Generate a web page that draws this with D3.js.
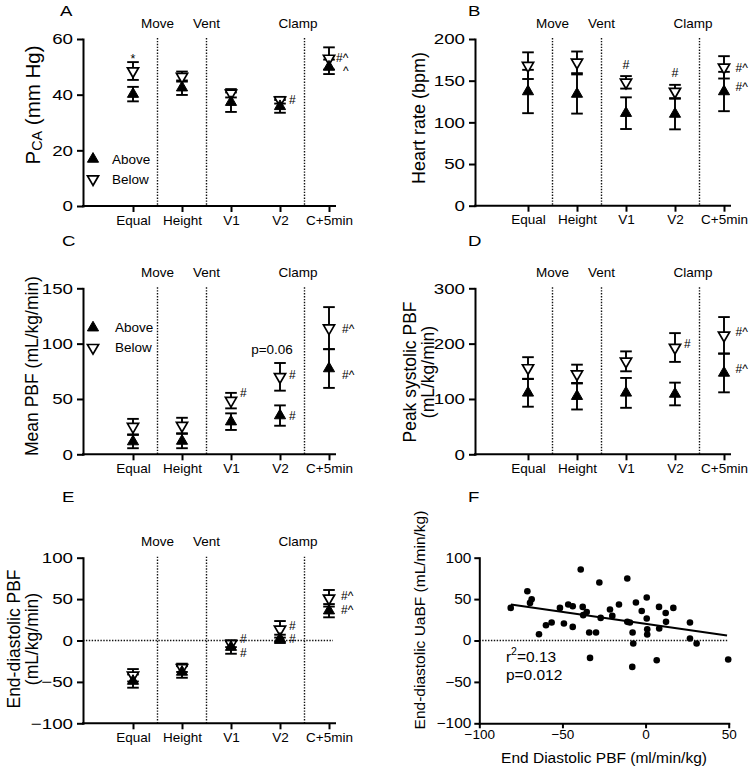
<!DOCTYPE html>
<html><head><meta charset="utf-8">
<script src="https://cdn.jsdelivr.net/npm/d3@7"></script>
<style>
body{margin:0;background:#fff;}
svg text{font-family:"Liberation Sans",Arial,sans-serif;fill:#000;}
</style></head><body>
<svg id="chart" width="752" height="775"></svg>
<script>
// ---------- DATA ----------
const categories = ["Equal","Height","V1","V2","C+5min"];
const phaseLabels = ["Move","Vent","Clamp"];
const seriesNames = ["Above","Below"];

// A: PCA (mm Hg)
const pcaTicks = [0,20,40,60];
const pcaAbove = [40.2, 42.5, 37.3, 35.8, 50.0];
const pcaAboveErr = [2.6, 2.6, 3.5, 2.3, 2.6];
const pcaBelow = [48.5, 46.5, 40.5, 38.0, 53.0];
const pcaBelowErr = [3.2, 1.8, 1.5, 1.2, 4.0];
const pcaNotes = [
  {cat:1, v:53.9, t:"*", side:"above"},
  {cat:4, v:38.1, t:"#", side:"right"},
  {cat:5, v:53.0, t:"#^", side:"right"},
  {cat:5, v:48.5, t:"^", side:"caret"}
];

// B: Heart rate (bpm)
const hrTicks = [0,50,100,150,200];
const hrAbove = [137, 134, 111, 110, 137];
const hrAboveErr = [26, 23.5, 19, 18.4, 23.6];
const hrBelow = [168, 172, 148, 137, 166];
const hrBelowErr = [16, 13, 7.5, 8, 13.4];
const hrNotes = [
  {cat:3, v:168.8, t:"#", side:"above"},
  {cat:4, v:158.9, t:"#", side:"above"},
  {cat:5, v:165, t:"#^", side:"right"},
  {cat:5, v:142, t:"#^", side:"right"}
];

// C: Mean PBF
const mpbfTicks = [0,50,100,150];
const mpbfAbove = [11.5, 12, 29.5, 35, 77.5];
const mpbfAboveErr = [6, 6.5, 7.5, 9.2, 17.5];
const mpbfBelow = [25, 26, 48.5, 70, 114];
const mpbfBelowErr = [7, 7, 7, 12.5, 19];
const mpbfNotes = [
  {cat:3, v:55.7, t:"#", side:"right"},
  {cat:4, v:71.7, t:"#", side:"right"},
  {cat:4, v:34.6, t:"#", side:"right"},
  {cat:5, v:113.2, t:"#^", side:"right"},
  {cat:5, v:71.7, t:"#^", side:"right"},
  {cat:4, v:94.9, t:"p=0.06", side:"pval"}
];

// D: Peak systolic PBF
const pspbfTicks = [0,100,200,300];
const pspbfAbove = [111, 105, 111, 109, 147];
const pspbfAboveErr = [25, 24, 27, 20.5, 35];
const pspbfBelow = [156, 145, 168, 193, 215];
const pspbfBelowErr = [19.5, 17, 18, 26, 33];
const pspbfNotes = [
  {cat:4, v:198.8, t:"#", side:"right"},
  {cat:5, v:220.5, t:"#^", side:"right"},
  {cat:5, v:154.2, t:"#^", side:"right"}
];

// E: End-diastolic PBF
const edpbfTicks = [-100,-50,0,50,100];
const edpbfAbove = [-49, -38, -8, 2, 36];
const edpbfAboveErr = [8, 7, 8, 5, 8];
const edpbfBelow = [-42, -33, -4, 13.5, 51];
const edpbfBelowErr = [7.5, 5, 4, 10, 10];
const edpbfNotes = [
  {cat:3, v:2.4, t:"#", side:"right"},
  {cat:3, v:-15, t:"#", side:"right"},
  {cat:4, v:18, t:"#", side:"right"},
  {cat:4, v:1.5, t:"#", side:"right"},
  {cat:5, v:54, t:"#^", side:"right"},
  {cat:5, v:36.6, t:"#^", side:"right"}
];

// F: scatter End Diastolic PBF vs End-diastolic UaBF
const scatterX = [-81.1,-71.1,-69.5,-68.5,-64.1,-59.9,-56.5,-51.5,-49.1,-46.5,
  -43.8,-43.8,-39,-37.8,-37.5,-35.4,-33.9,-33.4,-29.8,-27.8,
  -27,-21.4,-20,-16,-11,-11,-9.4,-7.8,-7.4,-8,
  -5.8,-2.3,0.7,0.7,1,1,6.7,8.1,8.2,12.1,
  12.3,16.7,26.7,26.7,30.7,49.7];
const scatterY = [39.4,59.5,45.4,49.9,7.6,18.5,21.7,39.4,20.5,43.5,
  41.4,16.4,85.7,40.6,30.6,34.5,9.7,-21,9.7,70,
  27.3,37.4,29.7,43.5,74.9,22.5,21.7,9.7,-3.6,-31.9,
  45.9,35.7,51.9,26.6,13.6,7.2,-23.8,40.6,14.5,33.3,
  22.5,39.4,21.7,2.4,-3.6,-23];
const regLineX = [-81, 49];
const regLineY = [43.5, 6];
const scatterXTicks = [-100,-50,0,50];
const scatterYTicks = [-100,-50,0,50,100];
const statsY = [-18.6, -40.7];
const statsX = -84;

// ---------- DRAWING ----------
const svg = d3.select("#chart");
const FONT = "Liberation Sans, Arial, sans-serif";
const triSize = 54;
const triUp = d3.symbol().type(d3.symbolTriangle).size(triSize)();

function stretch(sel, f){
  sel.each(function(){
    const w = this.getComputedTextLength();
    this.setAttribute("textLength", (w*f).toFixed(2));
    this.setAttribute("lengthAdjust","spacingAndGlyphs");
  });
}
function styleAxis(g, fs){
  g.attr("font-family", FONT).attr("font-size", fs);
  g.selectAll("line").attr("stroke","#000").attr("stroke-width",2);
  g.selectAll(".domain").attr("stroke","#000").attr("stroke-width",2).attr("stroke-linecap","square");
  g.selectAll("text").attr("fill","#000");
}

function drawCategoryPanel(p){
  const g = svg.append("g");
  const x = d3.scaleLinear().domain([0,5]).range([p.x0, p.x0 + 5*p.step]);
  const y = d3.scaleLinear().domain(p.yDomain).range([p.bottom, p.top]);

  // phase dividers & labels
  const divPos = [1.5, 2.5, 4.5];
  const labPos = [1.5, 2.5, 4.37];
  g.selectAll(".div").data(divPos).join("line")
    .attr("x1",d=>x(d)).attr("x2",d=>x(d)).attr("y1",p.top-1).attr("y2",p.bottom)
    .attr("stroke","#111").attr("stroke-width",1.4).attr("stroke-dasharray","1.4,1.5");
  g.selectAll(".ph").data(phaseLabels).join("text")
    .attr("x",(d,i)=>x(labPos[i])).attr("y",p.top-16)
    .attr("text-anchor","middle").attr("dominant-baseline","central")
    .attr("font-size",13.5).text(d=>d);

  if (p.zeroLine){
    g.append("line").attr("x1",p.left).attr("x2",p.axisEnd-2).attr("y1",y(0)).attr("y2",y(0))
      .attr("stroke","#111").attr("stroke-width",1.4).attr("stroke-dasharray","1.4,1.5");
  }

  // axes
  const ya = g.append("g").attr("transform",`translate(${p.left},0)`)
    .call(d3.axisLeft(y).tickValues(p.yTicks).tickSize(6).tickSizeOuter(0).tickPadding(4));
  styleAxis(ya, 15);
  stretch(ya.selectAll("text"), 1.25);
  g.append("line").attr("x1",p.left).attr("x2",p.axisEnd).attr("y1",p.bottom).attr("y2",p.bottom)
    .attr("stroke","#000").attr("stroke-width",2).attr("stroke-linecap","square");
  const xa = g.append("g").attr("transform",`translate(0,${p.bottom})`)
    .call(d3.axisBottom(x).tickValues([1,2,3,4,5]).tickFormat(i=>categories[i-1]).tickSize(6).tickPadding(3));
  xa.select(".domain").remove();
  styleAxis(xa, 13.5);

  // series
  const mk = (vals, errs) => vals.map((v,i)=>({i:i+1, v, e:errs[i]}));
  const above = mk(p.above, p.aboveErr);
  const below = mk(p.below, p.belowErr);
  const cap = 5.8;
  function bars(data){
    const gg = g.append("g").attr("stroke","#000").attr("stroke-width",1.9);
    data.forEach(d=>{
      const xi = x(d.i), y1 = y(d.v + d.e), y2 = y(d.v - d.e);
      gg.append("line").attr("x1",xi).attr("x2",xi).attr("y1",y1).attr("y2",y2);
      gg.append("line").attr("x1",xi-cap).attr("x2",xi+cap).attr("y1",y1).attr("y2",y1);
      gg.append("line").attr("x1",xi-cap).attr("x2",xi+cap).attr("y1",y2).attr("y2",y2);
    });
  }
  bars(below); bars(above);
  g.selectAll(".bm").data(below).join("path").attr("d",triUp)
    .attr("transform",d=>`translate(${x(d.i)},${y(d.v)}) rotate(180)`)
    .attr("fill","#fff").attr("stroke","#000").attr("stroke-width",1.7);
  g.selectAll(".am").data(above).join("path").attr("d",triUp)
    .attr("transform",d=>`translate(${x(d.i)},${y(d.v)})`)
    .attr("fill","#000").attr("stroke","#000").attr("stroke-width",1);

  // annotations
  p.notes.forEach(n=>{
    const t = g.append("text").attr("font-size",12).attr("dominant-baseline","central").text(n.t);
    const cx = x(n.cat), cy = y(n.v);
    const dx = n.cat===5 ? p.capDx : 9;
    if (n.side==="above"){ t.attr("x",cx).attr("y",cy + (n.t==="*"?3:0)).attr("text-anchor","middle").attr("font-size",12.5); }
    else if (n.side==="pval"){ t.attr("x",cx-8).attr("y",cy).attr("text-anchor","middle").attr("font-size",13.5); }
    else if (n.side==="caret"){ t.attr("x",cx+dx+7).attr("y",cy); }
    else { t.attr("x",cx+dx).attr("y",cy); }
  });

  // legend
  if (p.legend){
    const lg = g.append("g");
    seriesNames.forEach((s,i)=>{
      const yy = p.legend.y + i*20;
      lg.append("path").attr("d",triUp)
        .attr("transform",`translate(93,${yy})` + (i===1?" rotate(180)":""))
        .attr("fill", i===0?"#000":"#fff").attr("stroke","#000").attr("stroke-width",i===0?1:1.7);
      lg.append("text").attr("x",p.legend.tx).attr("y",yy).attr("dominant-baseline","central")
        .attr("font-size",13.5).text(s);
    });
  }

  // panel letter
  const lt = svg.append("text").attr("x",p.letterX).attr("y",p.letterY).attr("font-size",15.5).text(p.id);
  stretch(lt, 1.2);

  // y label
  if (p.ylabelSub){
    const yl = svg.append("text").attr("text-anchor","middle").attr("dominant-baseline","central")
      .attr("font-size",p.ylabelSize)
      .attr("transform",`translate(${p.ylabelX[0]},${p.ylabelY}) rotate(-90)`);
    yl.append("tspan").text(p.ylabel[0]);
    yl.append("tspan").attr("font-size",p.ylabelSize*0.7).attr("dy",5).text(p.ylabelSub);
    yl.append("tspan").attr("dy",-5).text(p.ylabel[1]);
  } else {
    p.ylabel.forEach((line,i)=>{
      svg.append("text").attr("text-anchor","middle").attr("dominant-baseline","central")
        .attr("font-size",p.ylabelSize)
        .attr("transform",`translate(${p.ylabelX[i]},${p.ylabelY}) rotate(-90)`).text(line);
    });
  }
}

const panels = [
  {id:"A", left:83, top:39, bottom:206, x0:84, step:49, axisEnd:335, yDomain:[0,60], yTicks:pcaTicks,
   above:pcaAbove, aboveErr:pcaAboveErr, below:pcaBelow, belowErr:pcaBelowErr, notes:pcaNotes, capDx:7,
   legend:{y:159, tx:112}, letterX:60, letterY:16, ylabel:["P"," (mm Hg)"], ylabelSub:"CA", ylabelSize:20.5, ylabelX:[32], ylabelY:105},
  {id:"B", left:475, top:39, bottom:205.7, x0:479, step:49, axisEnd:730, yDomain:[0,200], yTicks:hrTicks,
   above:hrAbove, aboveErr:hrAboveErr, below:hrBelow, belowErr:hrBelowErr, notes:hrNotes, capDx:11.5,
   letterX:468, letterY:16, ylabel:["Heart rate (bpm)"], ylabelSize:18, ylabelX:[419], ylabelY:118},
  {id:"C", left:83, top:288.3, bottom:454.3, x0:84, step:49, axisEnd:335, yDomain:[0,150], yTicks:mpbfTicks,
   above:mpbfAbove, aboveErr:mpbfAboveErr, below:mpbfBelow, belowErr:mpbfBelowErr, notes:mpbfNotes, capDx:13,
   legend:{y:327.7, tx:115}, letterX:62, letterY:246, ylabel:["Mean PBF (mL/kg/min)"], ylabelSize:17.5, ylabelX:[32], ylabelY:366},
  {id:"D", left:475, top:288.3, bottom:454.3, x0:479, step:49, axisEnd:730, yDomain:[0,300], yTicks:pspbfTicks,
   above:pspbfAbove, aboveErr:pspbfAboveErr, below:pspbfBelow, belowErr:pspbfBelowErr, notes:pspbfNotes, capDx:11.5,
   letterX:468, letterY:246, ylabel:["Peak systolic PBF","(mL/kg/min)"], ylabelSize:17.5, ylabelX:[410,428], ylabelY:372},
  {id:"E", left:83, top:557.7, bottom:723.3, x0:84, step:49, axisEnd:335, yDomain:[-100,100], yTicks:edpbfTicks,
   above:edpbfAbove, aboveErr:edpbfAboveErr, below:edpbfBelow, belowErr:edpbfBelowErr, notes:edpbfNotes, capDx:12,
   zeroLine:true, letterX:62, letterY:502, ylabel:["End-diastolic PBF","(mL/kg/min)"], ylabelSize:17.5, ylabelX:[14,32], ylabelY:639}
];
panels.forEach(drawCategoryPanel);

// ---- Panel F ----
(function(){
  const left=479.3, right=728.7, top=557.7, bottom=723.3;
  const x = d3.scaleLinear().domain([-100,50]).range([left,right]);
  const y = d3.scaleLinear().domain([-100,100]).range([bottom,top]);
  const g = svg.append("g");
  g.append("line").attr("x1",left).attr("x2",right).attr("y1",y(0)).attr("y2",y(0))
    .attr("stroke","#111").attr("stroke-width",1.4).attr("stroke-dasharray","1.4,1.5");
  const ya = g.append("g").attr("transform",`translate(${left},0)`)
    .call(d3.axisLeft(y).tickValues(scatterYTicks).tickSize(5).tickSizeOuter(0).tickPadding(3));
  styleAxis(ya, 14);
  stretch(ya.selectAll("text"), 1.1);
  const xa = g.append("g").attr("transform",`translate(0,${bottom})`)
    .call(d3.axisBottom(x).tickValues(scatterXTicks).tickSize(5).tickSizeOuter(0).tickPadding(1));
  styleAxis(xa, 13.5);
  const pts = scatterX.map((v,i)=>({x:v, y:scatterY[i]}));
  g.selectAll("circle").data(pts).join("circle")
    .attr("cx",d=>x(d.x)).attr("cy",d=>y(d.y)).attr("r",3.3).attr("fill","#000");
  g.append("line").attr("x1",x(regLineX[0])).attr("x2",x(regLineX[1]))
    .attr("y1",y(regLineY[0])).attr("y2",y(regLineY[1])).attr("stroke","#000").attr("stroke-width",2);
  const st = g.append("text").attr("font-size",15.5).attr("x",x(statsX)).attr("y",y(statsY[0])).attr("dominant-baseline","central");
  st.append("tspan").text("r");
  st.append("tspan").attr("font-size",10.5).attr("dy",-5).text("2");
  st.append("tspan").attr("dy",5).text("=0.13");
  g.append("text").attr("font-size",15.5).attr("x",x(statsX)).attr("y",y(statsY[1]))
    .attr("dominant-baseline","central").text("p=0.012");
  stretch(svg.append("text").attr("x",468).attr("y",502).attr("font-size",15.5).text("F"), 1.2);
  svg.append("text").attr("text-anchor","middle").attr("dominant-baseline","central").attr("font-size",15.5)
    .attr("transform",`translate(419,620) rotate(-90)`).text("End-diastolic UaBF (mL/min/kg)");
  svg.append("text").attr("text-anchor","middle").attr("dominant-baseline","central").attr("font-size",15.5)
    .attr("x",604).attr("y",757).text("End Diastolic PBF (ml/min/kg)");
})();
</script></body></html>
